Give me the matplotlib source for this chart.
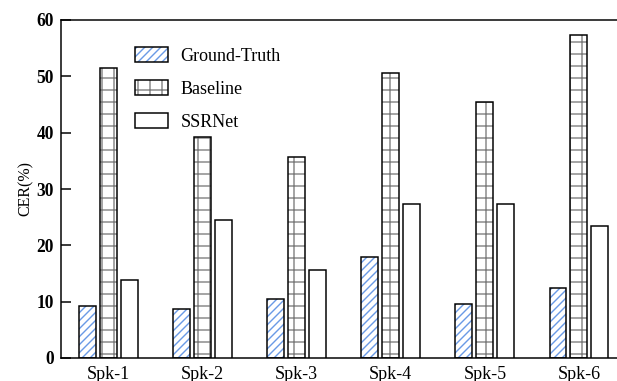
import numpy as np
import matplotlib.pyplot as plt
from matplotlib.patches import Patch

plt.rcParams['font.family'] = ['Liberation Serif', 'DejaVu Serif']
plt.rcParams['hatch.linewidth'] = 1.4

# CER per speaker
speakers = ['Spk-1', 'Spk-2', 'Spk-3', 'Spk-4', 'Spk-5', 'Spk-6']
ground_truth = [9.2, 8.7, 10.4, 18.0, 9.5, 12.4]
baseline = [51.4, 39.3, 35.6, 50.6, 45.5, 57.4]
ssrnet = [13.8, 24.5, 15.7, 27.3, 27.3, 23.4]

DPI = 72
fig = plt.figure(figsize=(617 / DPI, 381 / DPI), dpi=DPI)
ax = fig.add_axes([61 / 617, 23 / 381, 565 / 617, 338 / 381])

x = np.arange(len(speakers))
w = 0.18
off = 0.223
gt_color = '#6a9ae6'
grid_color = '#808080'

# hatched fill drawn first, black outline on top
ax.bar(x - off, ground_truth, w, color='white', edgecolor=gt_color,
       hatch='///', linewidth=0, zorder=2)
ax.bar(x - off, ground_truth, w, fill=False, edgecolor='black',
       linewidth=1.5, zorder=3)
ax.bar(x, baseline, w, color='white', edgecolor=grid_color,
       hatch='+', linewidth=0, zorder=2)
ax.bar(x, baseline, w, fill=False, edgecolor='black',
       linewidth=1.5, zorder=3)
ax.bar(x + off, ssrnet, w, color='white', edgecolor='black',
       linewidth=1.5, zorder=3)

ax.set_xlim(-0.505, 5.5)
ax.set_ylim(0, 60)
ax.set_yticks([0, 10, 20, 30, 40, 50, 60])
ax.set_xticks(x)
ax.set_xticklabels(speakers, fontsize=18)
ax.tick_params(axis='x', length=0, pad=8)
ax.tick_params(axis='y', direction='in', length=10, width=1.5, pad=7,
               labelsize=17.5)
for lbl in ax.get_yticklabels():
    lbl.set_fontweight('bold')
for sp in ax.spines.values():
    sp.set_linewidth(1.5)
ax.set_ylabel('CER(%)', fontsize=16, labelpad=3)

# legend keys: hatch layer plus black outline
outline = dict(fill=False, edgecolor='black', linewidth=1.5)
handles = [
    (Patch(facecolor='white', edgecolor=gt_color, hatch='///', linewidth=0),
     Patch(**outline)),
    (Patch(facecolor='white', edgecolor=grid_color, hatch='+', linewidth=0),
     Patch(**outline)),
    Patch(facecolor='white', edgecolor='black', linewidth=1.5),
]
ax.legend(handles, ['Ground-Truth', 'Baseline', 'SSRNet'],
          loc='upper left', bbox_to_anchor=(0.131, 0.92),
          frameon=False, fontsize=18, handlelength=1.83,
          handleheight=0.9, handletextpad=0.7, labelspacing=0.85,
          borderpad=0, borderaxespad=0)

fig.savefig('out.png', dpi=DPI)
